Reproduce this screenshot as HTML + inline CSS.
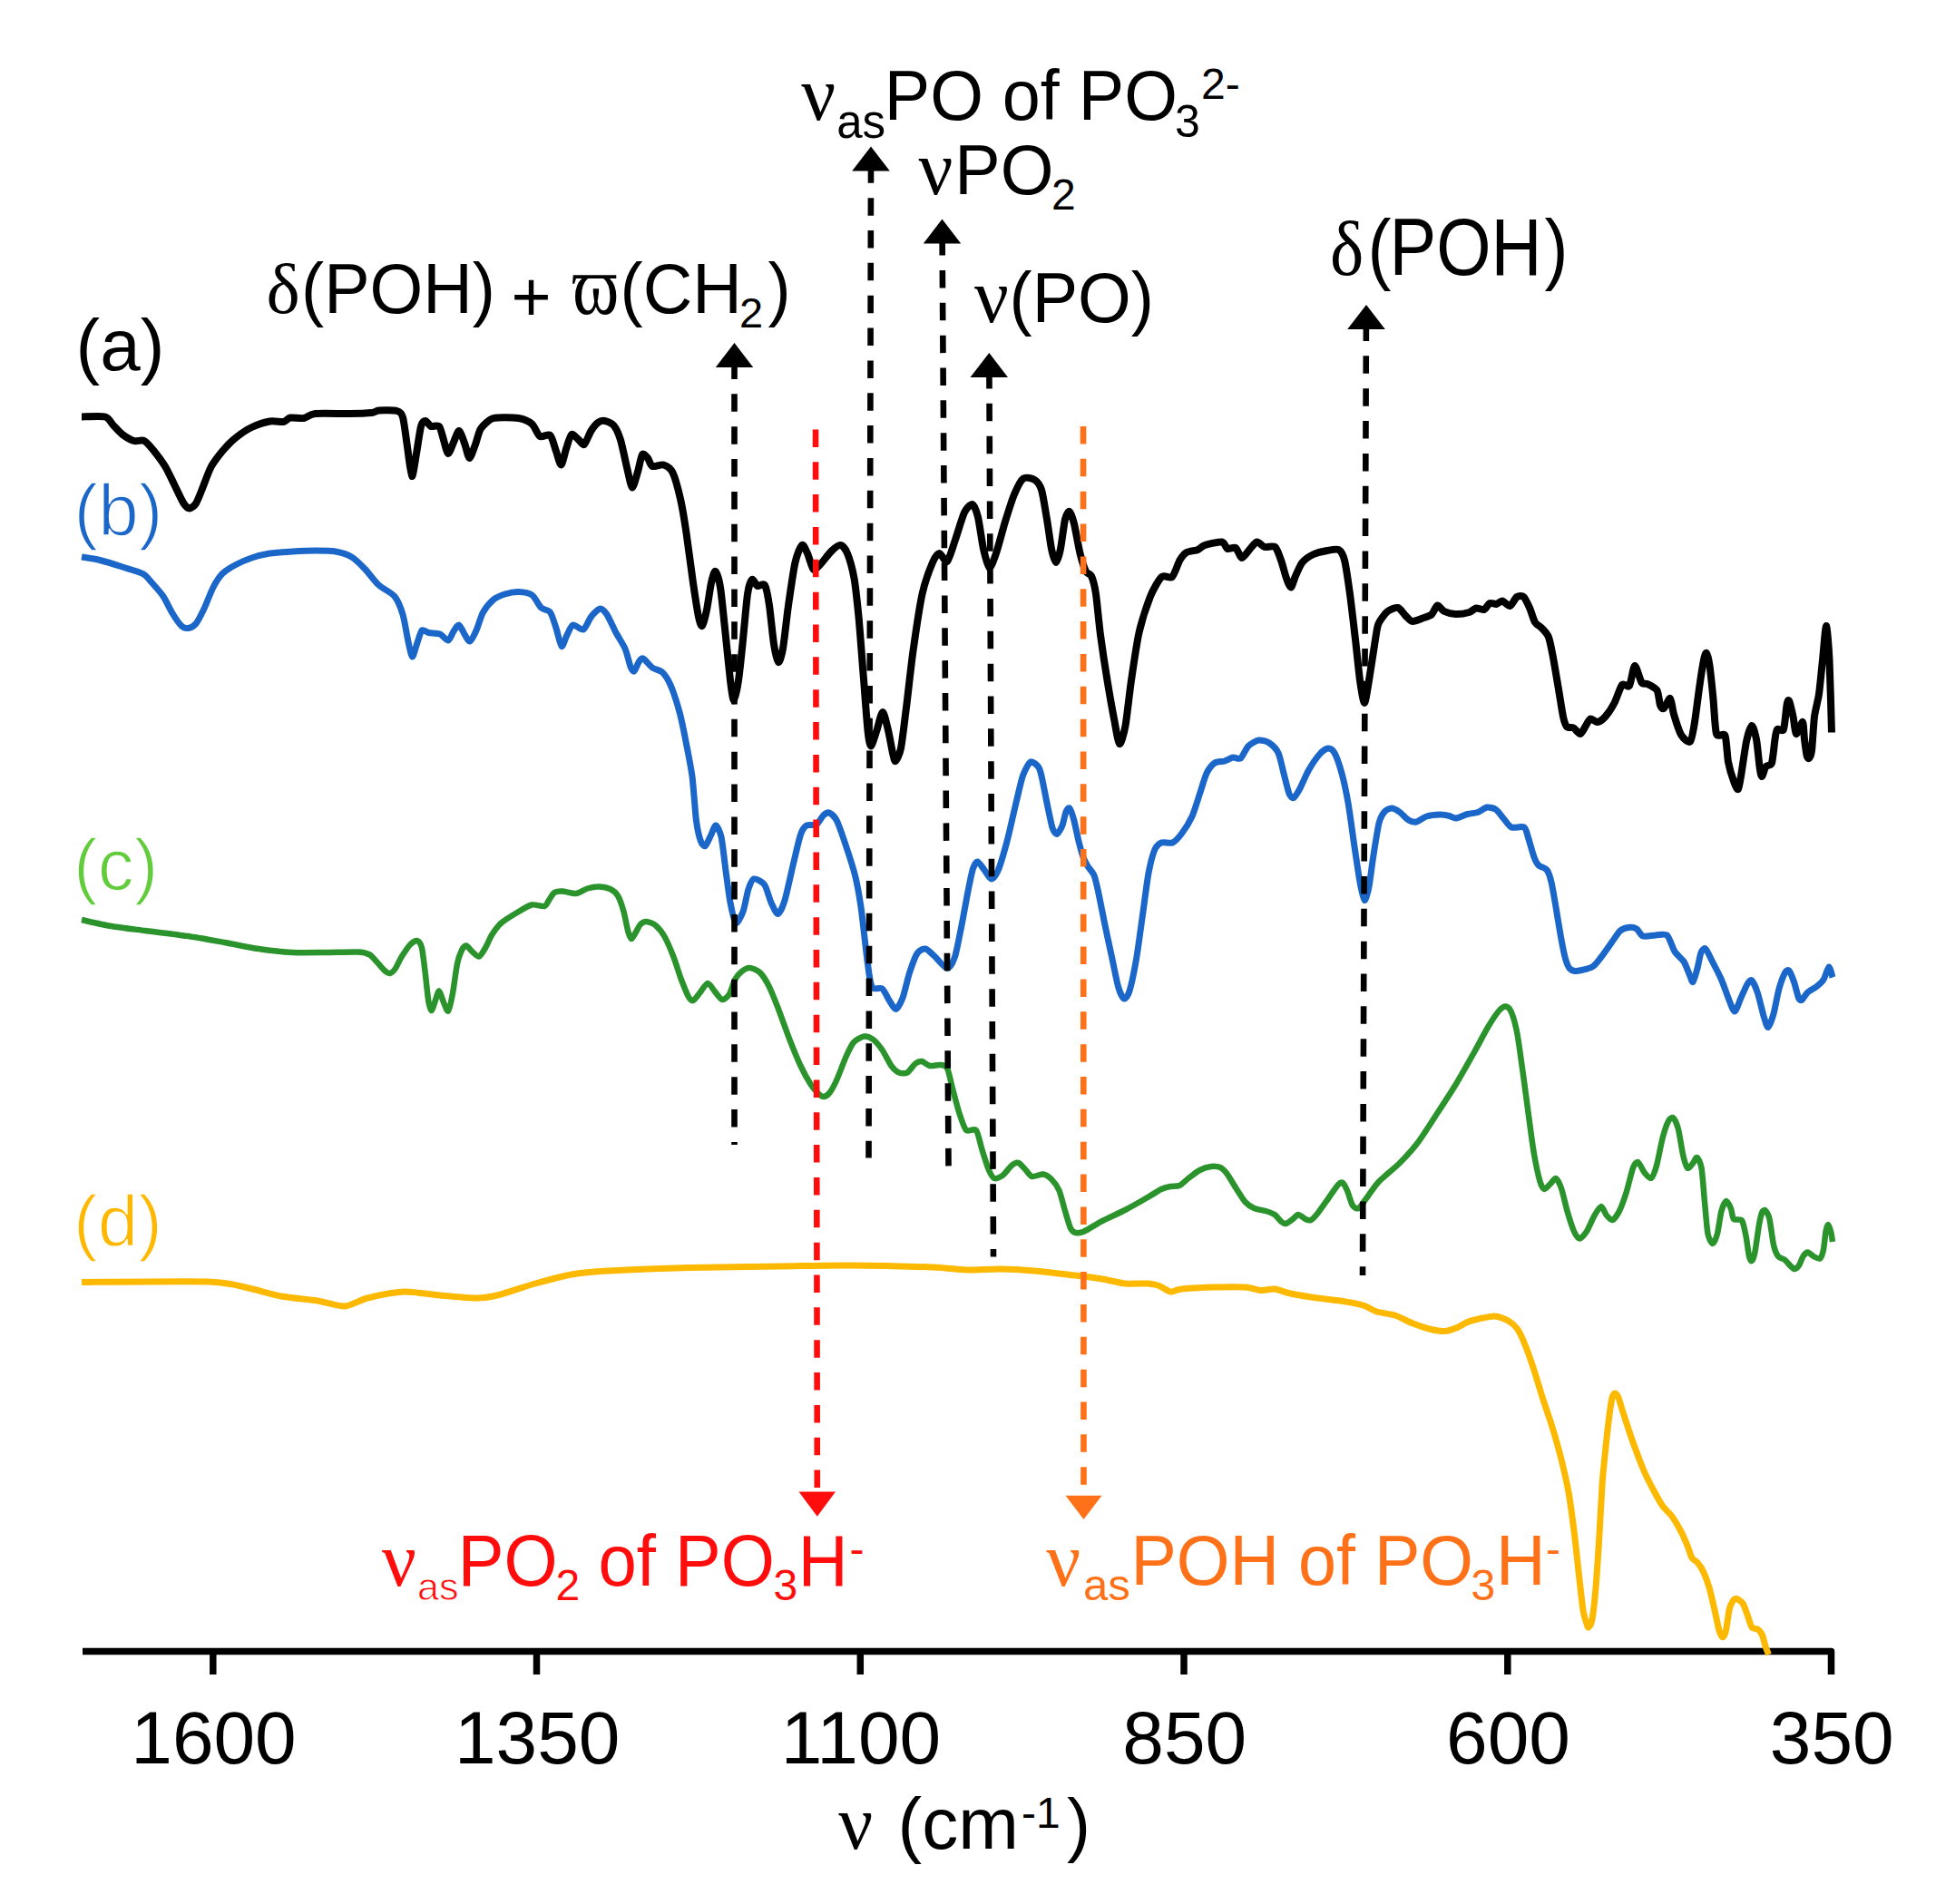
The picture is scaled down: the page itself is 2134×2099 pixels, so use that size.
<!DOCTYPE html>
<html lang="en"><head><meta charset="utf-8"><title>IR spectra</title>
<style>html,body{margin:0;padding:0;background:#fff}svg{display:block}</style></head>
<body>
<svg width="2134" height="2099" viewBox="0 0 2134 2099">
<rect width="2134" height="2099" fill="#fff"/>
<g stroke="#000" stroke-width="7.5" fill="none" stroke-linejoin="round">
<path d="M91 1820.5H2018.5V1846"/>
<line x1="234.8" y1="1820" x2="234.8" y2="1846"/>
<line x1="591.5" y1="1820" x2="591.5" y2="1846"/>
<line x1="948.3" y1="1820" x2="948.3" y2="1846"/>
<line x1="1305" y1="1820" x2="1305" y2="1846"/>
<line x1="1661.8" y1="1820" x2="1661.8" y2="1846"/>
</g>
<g fill="none" stroke-linejoin="round" stroke-linecap="butt">
<path d="M90.0 1014.0C94.1 1014.9 113.8 1019.5 122.5 1021.0C131.2 1022.5 149.1 1024.6 160.0 1026.0C170.9 1027.4 199.1 1030.9 210.0 1032.5C220.9 1034.1 238.1 1037.3 247.5 1039.0C256.9 1040.7 275.6 1044.6 285.0 1046.0C294.4 1047.4 313.1 1049.5 322.5 1050.0C331.9 1050.5 350.9 1050.1 360.0 1050.0C369.1 1049.9 389.1 1049.2 395.0 1049.5C400.9 1049.8 405.0 1051.2 407.5 1052.5C410.0 1053.8 412.9 1057.8 415.0 1060.0C417.1 1062.2 422.1 1068.4 424.0 1070.0C425.9 1071.6 428.5 1073.3 430.0 1073.0C431.5 1072.7 434.4 1069.8 436.0 1067.5C437.6 1065.2 440.4 1058.3 442.5 1055.0C444.6 1051.7 450.3 1043.2 452.5 1041.0C454.7 1038.8 458.4 1036.5 460.0 1037.0C461.6 1037.5 463.9 1040.2 465.0 1045.0C466.1 1049.8 468.1 1067.5 469.0 1075.0C469.9 1082.5 471.6 1100.1 472.5 1105.0C473.4 1109.9 475.1 1114.3 476.0 1114.0C476.9 1113.7 479.0 1105.2 480.0 1102.5C481.0 1099.8 482.9 1092.2 484.0 1092.5C485.1 1092.8 487.8 1102.2 489.0 1105.0C490.2 1107.8 492.8 1115.8 494.0 1114.5C495.2 1113.2 497.8 1101.5 499.0 1095.0C500.2 1088.5 502.8 1068.4 504.0 1062.5C505.2 1056.6 507.8 1050.0 509.0 1047.5C510.2 1045.0 512.5 1042.2 514.0 1042.5C515.5 1042.8 519.2 1048.0 521.0 1049.5C522.8 1051.0 526.2 1055.1 528.0 1054.5C529.8 1053.9 533.2 1048.1 535.0 1045.0C536.8 1041.9 540.3 1033.4 542.5 1030.0C544.7 1026.6 549.1 1020.5 552.5 1017.5C555.9 1014.5 565.8 1008.5 570.0 1006.0C574.2 1003.5 582.2 998.4 586.0 997.5C589.8 996.6 597.6 999.6 600.0 999.0C602.4 998.4 603.6 994.4 605.0 992.5C606.4 990.6 609.1 985.2 611.0 984.0C612.9 982.8 617.0 982.4 620.0 982.5C623.0 982.6 631.6 985.4 635.0 985.0C638.4 984.6 644.4 980.4 647.5 979.5C650.6 978.6 656.9 977.4 660.0 977.5C663.1 977.6 669.9 978.8 672.5 980.0C675.1 981.2 679.1 984.4 681.0 987.5C682.9 990.6 686.1 1000.0 687.5 1005.0C688.9 1010.0 691.4 1023.8 692.5 1027.5C693.6 1031.2 694.9 1035.0 696.0 1035.0C697.1 1035.0 699.8 1029.5 701.0 1027.5C702.2 1025.5 704.6 1020.4 706.0 1019.0C707.4 1017.6 710.4 1015.9 712.5 1016.0C714.6 1016.1 720.0 1017.9 722.5 1020.0C725.0 1022.1 730.0 1028.1 732.5 1032.5C735.0 1036.9 740.2 1049.1 742.5 1055.0C744.8 1060.9 748.9 1074.5 751.0 1080.0C753.1 1085.5 757.4 1096.1 759.0 1099.0C760.6 1101.9 762.5 1103.5 764.0 1103.0C765.5 1102.5 769.0 1097.4 771.0 1095.0C773.0 1092.6 777.9 1084.3 780.0 1084.0C782.1 1083.7 785.5 1090.2 787.5 1092.5C789.5 1094.8 793.9 1101.6 796.0 1102.0C798.1 1102.4 802.2 1098.8 804.0 1096.0C805.8 1093.2 808.3 1083.1 810.0 1080.0C811.7 1076.9 815.5 1072.6 817.5 1071.0C819.5 1069.4 823.5 1066.9 826.0 1067.0C828.5 1067.1 834.8 1069.5 837.5 1072.0C840.2 1074.5 845.0 1082.1 847.5 1087.0C850.0 1091.9 854.7 1103.8 857.5 1111.0C860.3 1118.2 866.9 1137.0 870.0 1145.0C873.1 1153.0 879.5 1168.6 882.5 1175.0C885.5 1181.4 891.5 1192.1 894.0 1196.0C896.5 1199.9 900.8 1204.4 902.5 1206.0C904.2 1207.6 906.4 1209.2 908.0 1209.0C909.6 1208.8 913.2 1206.4 915.0 1204.0C916.8 1201.6 920.3 1194.9 922.5 1190.0C924.7 1185.1 930.2 1170.1 932.5 1165.0C934.8 1159.9 938.5 1151.8 941.0 1149.0C943.5 1146.2 949.8 1142.9 952.5 1142.5C955.2 1142.1 960.0 1144.1 962.5 1146.0C965.0 1147.9 970.0 1153.9 972.5 1157.5C975.0 1161.1 980.2 1171.9 982.5 1175.0C984.8 1178.1 988.8 1181.6 991.0 1182.5C993.2 1183.4 997.8 1183.8 1000.0 1182.5C1002.2 1181.2 1007.0 1174.1 1009.0 1172.5C1011.0 1170.9 1014.0 1169.7 1016.0 1170.0C1018.0 1170.3 1022.5 1174.5 1025.0 1175.0C1027.5 1175.5 1033.6 1173.7 1036.0 1174.0C1038.4 1174.3 1042.2 1174.2 1044.0 1177.5C1045.8 1180.8 1048.3 1193.8 1050.0 1200.0C1051.7 1206.2 1055.6 1221.8 1057.5 1227.5C1059.4 1233.2 1062.7 1243.7 1065.0 1246.0C1067.3 1248.3 1073.8 1243.3 1076.0 1246.0C1078.2 1248.7 1080.8 1262.0 1082.5 1267.5C1084.2 1273.0 1088.3 1286.1 1090.0 1290.0C1091.7 1293.9 1094.1 1298.2 1096.0 1299.0C1097.9 1299.8 1102.6 1297.8 1105.0 1296.0C1107.4 1294.2 1112.8 1286.8 1115.0 1285.0C1117.2 1283.2 1120.6 1281.5 1122.5 1282.0C1124.4 1282.5 1128.1 1287.1 1130.0 1289.0C1131.9 1290.9 1135.0 1296.3 1137.5 1297.0C1140.0 1297.7 1147.3 1294.1 1150.0 1294.5C1152.7 1294.9 1156.8 1297.8 1159.0 1300.0C1161.2 1302.2 1165.6 1308.1 1167.5 1312.5C1169.4 1316.9 1172.4 1329.8 1174.0 1335.0C1175.6 1340.2 1178.5 1351.0 1180.0 1354.0C1181.5 1357.0 1184.1 1358.6 1186.0 1359.0C1187.9 1359.4 1191.4 1359.1 1195.0 1357.5C1198.6 1355.9 1209.4 1348.9 1215.0 1346.0C1220.6 1343.1 1233.8 1337.2 1240.0 1334.0C1246.2 1330.8 1260.0 1322.9 1265.0 1320.0C1270.0 1317.1 1276.9 1312.5 1280.0 1311.0C1283.1 1309.5 1287.5 1308.5 1290.0 1308.0C1292.5 1307.5 1297.5 1308.1 1300.0 1307.0C1302.5 1305.9 1307.2 1301.1 1310.0 1299.0C1312.8 1296.9 1319.4 1291.6 1322.5 1290.0C1325.6 1288.4 1332.2 1286.4 1335.0 1286.0C1337.8 1285.6 1342.8 1286.0 1345.0 1287.0C1347.2 1288.0 1350.3 1291.1 1352.5 1294.0C1354.7 1296.9 1360.0 1306.1 1362.5 1310.0C1365.0 1313.9 1370.0 1322.2 1372.5 1325.0C1375.0 1327.8 1379.7 1330.8 1382.5 1332.0C1385.3 1333.2 1392.2 1334.1 1395.0 1335.0C1397.8 1335.9 1402.8 1337.5 1405.0 1339.0C1407.2 1340.5 1410.9 1345.8 1412.5 1347.0C1414.1 1348.2 1415.9 1349.4 1417.5 1349.0C1419.1 1348.6 1423.3 1345.2 1425.0 1344.0C1426.7 1342.8 1429.2 1339.0 1431.0 1339.0C1432.8 1339.0 1437.2 1343.2 1439.0 1344.0C1440.8 1344.8 1443.3 1345.8 1445.0 1345.0C1446.7 1344.2 1450.0 1340.6 1452.5 1337.5C1455.0 1334.4 1462.2 1323.9 1465.0 1320.0C1467.8 1316.1 1473.1 1308.0 1475.0 1306.0C1476.9 1304.0 1478.8 1303.2 1480.0 1304.0C1481.2 1304.8 1483.6 1309.4 1485.0 1312.5C1486.4 1315.6 1489.4 1326.6 1491.0 1329.0C1492.6 1331.4 1495.8 1332.8 1497.5 1332.0C1499.2 1331.2 1502.2 1326.2 1505.0 1322.5C1507.8 1318.8 1515.3 1307.5 1520.0 1302.5C1524.7 1297.5 1537.2 1287.8 1542.5 1282.5C1547.8 1277.2 1557.5 1266.6 1562.5 1260.0C1567.5 1253.4 1577.2 1238.1 1582.5 1230.0C1587.8 1221.9 1599.7 1203.8 1605.0 1195.0C1610.3 1186.2 1620.6 1167.8 1625.0 1160.0C1629.4 1152.2 1636.6 1138.2 1640.0 1132.5C1643.4 1126.8 1650.0 1116.9 1652.5 1114.0C1655.0 1111.1 1658.3 1109.2 1660.0 1109.5C1661.7 1109.8 1664.4 1112.2 1666.0 1116.0C1667.6 1119.8 1670.9 1131.4 1672.5 1140.0C1674.1 1148.6 1677.4 1173.8 1679.0 1185.0C1680.6 1196.2 1683.5 1219.1 1685.0 1230.0C1686.5 1240.9 1689.4 1263.4 1691.0 1272.5C1692.6 1281.6 1696.1 1297.7 1697.5 1302.5C1698.9 1307.3 1701.1 1310.7 1702.5 1311.0C1703.9 1311.3 1707.4 1306.5 1709.0 1305.0C1710.6 1303.5 1713.5 1298.4 1715.0 1299.0C1716.5 1299.6 1719.4 1305.5 1721.0 1310.0C1722.6 1314.5 1725.8 1329.1 1727.5 1335.0C1729.2 1340.9 1733.3 1353.7 1735.0 1357.5C1736.7 1361.3 1739.2 1365.5 1741.0 1365.5C1742.8 1365.5 1746.9 1360.7 1749.0 1357.5C1751.1 1354.3 1755.5 1343.4 1757.5 1340.0C1759.5 1336.6 1763.3 1330.0 1765.0 1330.0C1766.7 1330.0 1769.4 1338.1 1771.0 1340.0C1772.6 1341.9 1775.8 1345.6 1777.5 1345.0C1779.2 1344.4 1783.1 1338.8 1785.0 1335.0C1786.9 1331.2 1790.6 1320.9 1792.5 1315.0C1794.4 1309.1 1798.4 1291.8 1800.0 1287.5C1801.6 1283.2 1803.9 1280.4 1805.5 1281.0C1807.1 1281.6 1810.7 1290.2 1812.5 1292.5C1814.3 1294.8 1818.3 1299.9 1820.0 1299.0C1821.7 1298.1 1824.4 1290.5 1826.0 1285.0C1827.6 1279.5 1830.9 1261.1 1832.5 1255.0C1834.1 1248.9 1837.5 1238.8 1839.0 1236.0C1840.5 1233.2 1843.1 1231.4 1844.5 1232.5C1845.9 1233.6 1848.7 1240.0 1850.0 1245.0C1851.3 1250.0 1853.8 1267.2 1855.0 1272.5C1856.2 1277.8 1858.6 1286.2 1860.0 1287.5C1861.4 1288.8 1864.7 1283.9 1866.0 1282.5C1867.3 1281.1 1869.3 1275.4 1870.5 1276.0C1871.7 1276.6 1874.4 1281.4 1875.5 1287.5C1876.6 1293.6 1878.1 1315.9 1879.0 1325.0C1879.9 1334.1 1881.4 1354.2 1882.5 1360.0C1883.6 1365.8 1886.7 1371.0 1888.0 1371.0C1889.3 1371.0 1891.8 1364.5 1893.0 1360.0C1894.2 1355.5 1896.2 1339.5 1897.5 1335.0C1898.8 1330.5 1901.7 1324.3 1903.0 1324.0C1904.3 1323.7 1907.0 1330.0 1908.0 1332.5C1909.0 1335.0 1909.5 1342.4 1911.0 1344.0C1912.5 1345.6 1918.3 1343.2 1920.0 1345.5C1921.7 1347.8 1923.5 1357.6 1924.5 1362.5C1925.5 1367.4 1927.2 1381.6 1928.0 1385.0C1928.8 1388.4 1930.2 1390.6 1931.0 1390.0C1931.8 1389.4 1933.5 1385.0 1934.5 1380.0C1935.5 1375.0 1938.0 1355.5 1939.0 1350.0C1940.0 1344.5 1941.6 1337.9 1942.5 1336.0C1943.4 1334.1 1945.0 1333.5 1946.0 1334.5C1947.0 1335.5 1949.4 1339.2 1950.5 1344.0C1951.6 1348.8 1953.8 1367.4 1955.0 1372.5C1956.2 1377.6 1958.4 1382.9 1960.0 1385.0C1961.6 1387.1 1965.8 1387.6 1967.5 1389.0C1969.2 1390.4 1972.7 1394.8 1974.0 1396.0C1975.3 1397.2 1976.9 1399.1 1978.0 1399.0C1979.1 1398.9 1981.8 1396.8 1983.0 1395.0C1984.2 1393.2 1986.3 1386.8 1987.5 1385.0C1988.7 1383.2 1991.1 1380.5 1992.5 1380.5C1993.9 1380.5 1997.3 1384.1 1999.0 1385.0C2000.7 1385.9 2004.6 1388.4 2006.0 1387.5C2007.4 1386.6 2009.2 1381.2 2010.0 1377.5C2010.8 1373.8 2011.9 1360.9 2012.5 1357.5C2013.1 1354.1 2014.3 1350.0 2015.0 1350.0C2015.7 1350.0 2017.4 1355.1 2018.0 1357.5C2018.6 1359.9 2019.8 1367.6 2020.0 1369.0" stroke="#2a932c" stroke-width="6.5"/>
<path d="M90.0 614.0C92.5 614.4 104.4 616.1 110.0 617.5C115.6 618.9 129.1 623.1 135.0 625.0C140.9 626.9 153.4 630.3 157.5 632.5C161.6 634.7 164.7 639.4 167.5 642.5C170.3 645.6 177.2 653.3 180.0 657.5C182.8 661.7 187.5 671.9 190.0 676.0C192.5 680.1 197.8 687.9 200.0 690.0C202.2 692.1 205.5 692.8 207.5 692.5C209.5 692.2 213.8 690.2 216.0 687.5C218.2 684.8 222.6 676.0 225.0 671.0C227.4 666.0 232.5 652.3 235.0 647.5C237.5 642.7 241.9 635.6 245.0 632.5C248.1 629.4 255.9 624.7 260.0 622.5C264.1 620.3 272.8 616.6 277.5 615.0C282.2 613.4 291.9 610.9 297.5 610.0C303.1 609.1 316.2 608.4 322.5 608.0C328.8 607.6 341.6 607.0 347.5 607.0C353.4 607.0 365.0 607.1 370.0 608.0C375.0 608.9 383.4 611.6 387.5 614.0C391.6 616.4 398.8 623.6 402.5 627.5C406.2 631.4 413.4 641.2 417.5 645.0C421.6 648.8 431.7 653.4 435.0 657.5C438.3 661.6 442.1 671.2 444.0 677.5C445.9 683.8 448.7 701.7 450.0 707.5C451.3 713.3 453.3 723.7 454.5 724.0C455.7 724.3 458.2 713.6 459.5 710.0C460.8 706.4 463.4 696.6 465.0 695.0C466.6 693.4 470.0 697.0 472.5 697.5C475.0 698.0 482.3 697.9 485.0 699.0C487.7 700.1 492.1 706.4 494.0 706.0C495.9 705.6 498.5 698.1 500.0 696.0C501.5 693.9 504.4 688.5 506.0 689.0C507.6 689.5 511.0 697.8 512.5 700.0C514.0 702.2 516.4 707.6 518.0 707.0C519.6 706.4 523.2 699.0 525.0 695.0C526.8 691.0 530.1 679.2 532.5 675.0C534.9 670.8 541.0 663.5 544.0 661.0C547.0 658.5 553.1 656.1 556.5 655.0C559.9 653.9 567.8 652.4 571.5 652.5C575.2 652.6 583.4 653.8 586.5 656.0C589.6 658.2 594.0 667.6 596.5 670.0C599.0 672.4 604.4 672.2 606.5 675.0C608.6 677.8 611.4 687.8 613.0 692.5C614.6 697.2 617.5 711.6 619.0 712.5C620.5 713.4 623.4 702.9 625.0 700.0C626.6 697.1 629.2 689.8 631.5 689.0C633.8 688.2 640.5 695.1 643.0 694.0C645.5 692.9 649.2 682.9 651.5 680.0C653.8 677.1 659.3 671.3 661.5 671.0C663.7 670.7 666.8 674.2 669.0 677.5C671.2 680.8 676.5 692.8 679.0 697.5C681.5 702.2 687.0 710.3 689.0 715.0C691.0 719.7 693.8 731.9 695.0 735.0C696.2 738.1 697.9 740.6 699.0 740.0C700.1 739.4 702.8 731.8 704.0 730.0C705.2 728.2 707.1 725.2 709.0 726.0C710.9 726.8 716.4 734.1 719.0 736.0C721.6 737.9 727.5 738.6 730.0 741.0C732.5 743.4 736.6 749.5 739.0 755.0C741.4 760.5 746.8 776.9 749.0 785.0C751.2 793.1 754.8 811.1 756.5 820.0C758.2 828.9 761.6 845.4 763.0 856.0C764.4 866.6 766.3 896.1 767.5 905.0C768.7 913.9 771.2 924.1 772.5 927.5C773.8 930.9 776.1 933.4 777.5 932.5C778.9 931.6 782.6 922.8 784.0 920.0C785.4 917.2 787.6 909.7 789.0 910.0C790.4 910.3 793.6 916.2 795.0 922.5C796.4 928.8 798.8 950.9 800.0 960.0C801.2 969.1 803.6 987.8 805.0 995.0C806.4 1002.2 809.2 1016.2 811.0 1017.5C812.8 1018.8 817.2 1009.7 819.0 1005.0C820.8 1000.3 823.5 984.5 825.0 980.0C826.5 975.5 828.8 969.6 831.0 969.0C833.2 968.4 840.1 971.8 842.5 975.0C844.9 978.2 848.1 990.9 850.0 995.0C851.9 999.1 855.6 1007.8 857.5 1007.5C859.4 1007.2 862.8 999.7 865.0 992.5C867.2 985.3 872.8 959.1 875.0 950.0C877.2 940.9 880.8 925.0 882.5 920.0C884.2 915.0 886.8 911.4 889.0 910.0C891.2 908.6 897.7 910.4 900.0 909.0C902.3 907.6 905.8 900.6 907.5 899.0C909.2 897.4 912.1 895.2 914.0 896.0C915.9 896.8 920.2 900.4 922.5 905.0C924.8 909.6 930.0 925.0 932.5 932.5C935.0 940.0 940.4 956.6 942.5 965.0C944.6 973.4 947.6 990.3 949.0 1000.0C950.4 1009.7 952.8 1032.5 954.0 1042.5C955.2 1052.5 957.9 1074.1 959.0 1080.0C960.1 1085.9 960.8 1088.2 962.5 1089.5C964.2 1090.8 970.3 1088.4 972.5 1090.0C974.7 1091.6 978.1 1099.7 980.0 1102.5C981.9 1105.3 985.6 1112.8 987.5 1112.5C989.4 1112.2 993.1 1105.0 995.0 1100.0C996.9 1095.0 1000.5 1078.6 1002.5 1072.5C1004.5 1066.4 1008.8 1054.3 1011.0 1051.0C1013.2 1047.7 1017.6 1045.6 1020.0 1046.0C1022.4 1046.4 1027.0 1051.3 1030.0 1054.0C1033.0 1056.7 1041.2 1067.4 1044.0 1067.5C1046.8 1067.6 1050.5 1060.9 1052.5 1055.0C1054.5 1049.1 1058.1 1029.4 1060.0 1020.0C1061.9 1010.6 1065.9 987.8 1067.5 980.0C1069.1 972.2 1071.2 961.2 1072.5 957.5C1073.8 953.8 1075.9 949.8 1077.5 950.0C1079.1 950.2 1083.1 956.6 1085.0 959.0C1086.9 961.4 1090.6 968.9 1092.5 969.0C1094.4 969.1 1097.8 965.2 1100.0 960.0C1102.2 954.8 1107.5 936.9 1110.0 927.5C1112.5 918.1 1117.8 894.1 1120.0 885.0C1122.2 875.9 1125.5 860.6 1127.5 855.0C1129.5 849.4 1133.8 841.1 1136.0 840.0C1138.2 838.9 1143.4 843.5 1145.0 846.0C1146.6 848.5 1147.8 854.5 1149.0 860.0C1150.2 865.5 1153.6 883.4 1155.0 890.0C1156.4 896.6 1158.8 908.8 1160.0 912.5C1161.2 916.2 1163.6 919.8 1165.0 919.5C1166.4 919.2 1169.8 913.1 1171.0 910.0C1172.2 906.9 1174.0 897.4 1175.0 895.0C1176.0 892.6 1177.9 889.8 1179.0 891.0C1180.1 892.2 1182.8 900.4 1184.0 905.0C1185.2 909.6 1187.8 922.5 1189.0 927.5C1190.2 932.5 1192.8 941.6 1194.0 945.0C1195.2 948.4 1197.5 952.5 1199.0 955.0C1200.5 957.5 1204.5 961.2 1206.0 965.0C1207.5 968.8 1209.6 978.4 1211.0 985.0C1212.4 991.6 1215.8 1009.1 1217.5 1017.5C1219.2 1025.9 1223.1 1043.8 1225.0 1052.5C1226.9 1061.2 1230.8 1081.4 1232.5 1087.5C1234.2 1093.6 1237.4 1100.4 1239.0 1101.0C1240.6 1101.6 1243.3 1097.9 1245.0 1092.5C1246.7 1087.1 1250.6 1068.4 1252.5 1057.5C1254.4 1046.6 1258.3 1016.9 1260.0 1005.0C1261.7 993.1 1264.4 970.9 1266.0 962.5C1267.6 954.1 1270.8 941.7 1272.5 937.5C1274.2 933.3 1277.5 930.1 1280.0 929.0C1282.5 927.9 1289.7 930.2 1292.5 929.0C1295.3 927.8 1299.8 922.6 1302.5 919.0C1305.2 915.4 1311.5 905.5 1314.0 900.0C1316.5 894.5 1320.5 880.9 1322.5 875.0C1324.5 869.1 1327.9 856.8 1330.0 852.5C1332.1 848.2 1336.5 842.7 1339.0 841.0C1341.5 839.3 1347.5 839.8 1350.0 839.0C1352.5 838.2 1356.8 835.4 1359.0 835.0C1361.2 834.6 1365.4 837.6 1367.5 836.0C1369.6 834.4 1373.5 825.0 1376.0 822.5C1378.5 820.0 1384.6 816.4 1387.5 816.0C1390.4 815.6 1396.3 817.2 1399.0 819.0C1401.7 820.8 1407.0 825.8 1409.0 830.0C1411.0 834.2 1413.5 846.9 1415.0 852.5C1416.5 858.1 1419.6 871.6 1421.0 875.0C1422.4 878.4 1424.6 880.1 1426.0 879.5C1427.4 878.9 1430.4 873.8 1432.5 870.0C1434.6 866.2 1439.7 853.9 1442.5 849.0C1445.3 844.1 1452.3 834.0 1455.0 831.0C1457.7 828.0 1462.0 825.1 1464.0 825.0C1466.0 824.9 1469.1 826.6 1471.0 830.0C1472.9 833.4 1477.1 845.6 1479.0 852.5C1480.9 859.4 1484.3 875.3 1486.0 885.0C1487.7 894.7 1490.9 919.1 1492.5 930.0C1494.1 940.9 1497.6 964.7 1499.0 972.5C1500.4 980.3 1502.8 991.9 1504.0 992.5C1505.2 993.1 1507.8 983.8 1509.0 977.5C1510.2 971.2 1512.6 951.2 1514.0 942.5C1515.4 933.8 1518.5 913.4 1520.0 907.5C1521.5 901.6 1524.2 897.1 1526.0 895.0C1527.8 892.9 1531.9 891.0 1534.0 891.0C1536.1 891.0 1540.2 893.4 1542.5 895.0C1544.8 896.6 1550.2 902.6 1552.5 904.0C1554.8 905.4 1558.5 906.5 1561.0 906.0C1563.5 905.5 1569.2 901.0 1572.5 900.0C1575.8 899.0 1584.4 898.1 1587.5 898.0C1590.6 897.9 1595.3 899.0 1597.5 899.5C1599.7 900.0 1602.5 902.2 1605.0 902.0C1607.5 901.8 1614.5 898.3 1617.5 897.5C1620.5 896.7 1626.3 896.4 1629.0 895.5C1631.7 894.6 1636.5 890.4 1639.0 890.0C1641.5 889.6 1646.7 890.9 1649.0 892.5C1651.3 894.1 1655.4 900.1 1657.5 902.5C1659.6 904.9 1663.2 910.8 1666.0 912.0C1668.8 913.2 1677.6 910.4 1680.0 912.0C1682.4 913.6 1683.6 920.9 1685.0 925.0C1686.4 929.1 1689.6 941.4 1691.0 945.0C1692.4 948.6 1694.2 952.2 1696.0 954.0C1697.8 955.8 1703.2 956.7 1705.0 959.0C1706.8 961.3 1708.8 967.4 1710.0 972.5C1711.2 977.6 1713.8 992.8 1715.0 1000.0C1716.2 1007.2 1718.8 1023.1 1720.0 1030.0C1721.2 1036.9 1723.8 1050.3 1725.0 1055.0C1726.2 1059.7 1728.4 1065.6 1730.0 1067.5C1731.6 1069.4 1734.4 1070.7 1737.5 1070.5C1740.6 1070.3 1751.6 1067.9 1755.0 1066.0C1758.4 1064.1 1762.2 1058.6 1765.0 1055.0C1767.8 1051.4 1774.9 1041.1 1777.5 1037.5C1780.1 1033.9 1783.8 1027.9 1786.0 1026.0C1788.2 1024.1 1792.8 1022.8 1795.0 1022.5C1797.2 1022.2 1802.0 1022.8 1804.0 1024.0C1806.0 1025.2 1808.4 1031.1 1811.0 1032.0C1813.6 1032.9 1821.7 1031.1 1825.0 1031.0C1828.3 1030.9 1834.9 1028.8 1837.5 1031.0C1840.1 1033.2 1843.7 1045.4 1846.0 1049.0C1848.3 1052.6 1853.9 1056.8 1856.0 1060.0C1858.1 1063.2 1861.2 1072.2 1862.5 1075.0C1863.8 1077.8 1864.9 1083.4 1866.0 1082.5C1867.1 1081.6 1869.9 1071.6 1871.0 1067.5C1872.1 1063.4 1873.9 1052.7 1875.0 1050.0C1876.1 1047.3 1878.4 1044.8 1880.0 1046.0C1881.6 1047.2 1885.3 1055.8 1887.5 1060.0C1889.7 1064.2 1895.3 1075.0 1897.5 1080.0C1899.7 1085.0 1903.2 1095.6 1905.0 1100.0C1906.8 1104.4 1910.2 1115.0 1912.0 1115.0C1913.8 1115.0 1917.2 1103.8 1919.0 1100.0C1920.8 1096.2 1924.5 1087.4 1926.0 1085.0C1927.5 1082.6 1929.6 1079.8 1931.0 1081.0C1932.4 1082.2 1935.9 1090.1 1937.5 1095.0C1939.1 1099.9 1942.6 1115.3 1944.0 1120.0C1945.4 1124.7 1947.6 1132.8 1949.0 1132.5C1950.4 1132.2 1953.5 1122.8 1955.0 1117.5C1956.5 1112.2 1959.4 1095.6 1961.0 1090.0C1962.6 1084.4 1966.1 1075.0 1967.5 1072.5C1968.9 1070.0 1970.8 1068.8 1972.0 1070.0C1973.2 1071.2 1976.2 1078.8 1977.5 1082.5C1978.8 1086.2 1981.4 1097.5 1982.5 1100.0C1983.6 1102.5 1984.8 1103.2 1986.0 1102.5C1987.2 1101.8 1990.4 1095.9 1992.5 1094.0C1994.6 1092.1 2000.3 1089.2 2002.5 1087.5C2004.7 1085.8 2008.3 1082.7 2010.0 1080.0C2011.7 1077.3 2014.8 1066.3 2016.0 1066.0C2017.2 1065.7 2019.5 1076.1 2020.0 1077.5" stroke="#1a66c9" stroke-width="7"/>
<path d="M90.0 459.5C93.2 459.5 111.6 458.3 116.0 459.5C120.4 460.7 122.6 466.6 125.0 469.0C127.4 471.4 132.2 476.9 135.0 479.0C137.8 481.1 144.5 485.1 147.5 486.0C150.5 486.9 156.2 484.6 159.0 486.0C161.8 487.4 167.1 493.9 170.0 497.5C172.9 501.1 179.7 510.3 182.5 515.0C185.3 519.7 190.0 530.0 192.5 535.0C195.0 540.0 200.4 551.8 202.5 555.0C204.6 558.2 207.3 560.5 209.0 560.5C210.7 560.5 214.3 557.6 216.0 555.0C217.7 552.4 220.4 545.0 222.5 540.0C224.6 535.0 229.7 520.3 232.5 515.0C235.3 509.7 241.6 501.6 245.0 497.5C248.4 493.4 255.9 485.8 260.0 482.5C264.1 479.2 272.8 473.2 277.5 471.0C282.2 468.8 293.1 465.2 297.5 464.5C301.9 463.8 309.7 465.5 312.5 465.0C315.3 464.5 317.2 461.0 320.0 460.5C322.8 460.0 331.6 461.6 335.0 461.0C338.4 460.4 341.2 456.6 347.5 456.0C353.8 455.4 377.2 456.1 385.0 456.0C392.8 455.9 405.9 455.4 410.0 455.0C414.1 454.6 414.1 452.8 417.5 452.5C420.9 452.2 434.2 452.1 437.5 453.0C440.8 453.9 442.6 455.1 444.0 460.0C445.4 464.9 447.8 484.4 449.0 492.5C450.2 500.6 452.8 524.1 454.0 525.0C455.2 525.9 457.8 506.9 459.0 500.0C460.2 493.1 462.8 474.5 464.0 470.0C465.2 465.5 467.6 464.0 469.0 464.0C470.4 464.0 473.1 469.2 475.0 470.0C476.9 470.8 482.2 468.1 484.0 470.0C485.8 471.9 487.8 481.2 489.0 485.0C490.2 488.8 492.6 499.7 494.0 500.0C495.4 500.3 498.5 490.6 500.0 487.5C501.5 484.4 504.4 474.7 506.0 475.0C507.6 475.3 511.1 486.2 512.5 490.0C513.9 493.8 516.1 505.0 517.5 505.0C518.9 505.0 522.4 494.1 524.0 490.0C525.6 485.9 527.5 476.1 530.0 472.5C532.5 468.9 538.8 462.4 544.0 461.0C549.2 459.6 566.2 460.2 571.5 461.0C576.8 461.8 583.6 465.0 586.5 467.5C589.4 470.0 592.5 479.4 595.0 481.0C597.5 482.6 604.2 477.9 606.5 480.0C608.8 482.1 611.5 493.4 613.0 497.5C614.5 501.6 617.1 512.8 618.5 512.5C619.9 512.2 622.6 499.2 624.0 495.0C625.4 490.8 628.2 480.2 630.0 479.0C631.8 477.8 636.2 483.6 638.0 485.0C639.8 486.4 642.3 491.2 644.0 490.0C645.7 488.8 649.6 478.0 651.5 475.0C653.4 472.0 657.1 467.4 659.0 466.0C660.9 464.6 664.3 463.6 666.5 464.0C668.7 464.4 674.3 466.4 676.5 469.0C678.7 471.6 682.1 478.9 684.0 485.0C685.9 491.1 689.9 510.9 691.5 517.5C693.1 524.1 695.6 537.2 697.0 537.5C698.4 537.8 701.6 524.6 703.0 520.0C704.4 515.4 706.6 502.9 708.0 501.0C709.4 499.1 712.6 503.4 714.0 505.0C715.4 506.6 716.8 513.1 719.0 514.0C721.2 514.9 728.7 511.6 731.5 512.5C734.3 513.4 739.2 516.3 741.5 521.0C743.8 525.7 748.1 541.7 750.0 550.0C751.9 558.3 754.8 575.9 756.5 587.5C758.2 599.1 762.3 630.9 764.0 642.5C765.7 654.1 768.8 674.1 770.0 680.0C771.2 685.9 772.9 690.9 774.0 690.0C775.1 689.1 777.8 678.4 779.0 672.5C780.2 666.6 782.8 647.8 784.0 642.5C785.2 637.2 787.2 629.4 788.5 630.0C789.8 630.6 792.7 639.7 794.0 647.5C795.3 655.3 797.6 679.7 799.0 692.5C800.4 705.3 803.8 740.0 805.0 750.0C806.2 760.0 807.9 772.5 809.0 772.5C810.1 772.5 812.8 758.4 814.0 750.0C815.2 741.6 817.8 716.9 819.0 705.0C820.2 693.1 822.8 663.2 824.0 655.0C825.2 646.8 827.6 640.1 829.0 639.0C830.4 637.9 833.2 645.2 835.0 646.0C836.8 646.8 841.4 642.3 843.0 645.0C844.6 647.7 846.8 659.4 848.0 667.5C849.2 675.6 851.8 702.2 853.0 710.0C854.2 717.8 856.8 729.4 858.0 730.0C859.2 730.6 861.6 722.8 863.0 715.0C864.4 707.2 867.3 679.4 869.0 667.5C870.7 655.6 874.6 628.3 876.5 620.0C878.4 611.7 882.3 602.2 884.0 601.0C885.7 599.8 888.4 606.7 890.0 610.0C891.6 613.3 894.8 625.9 896.5 627.5C898.2 629.1 901.5 625.0 904.0 622.5C906.5 620.0 913.7 610.2 916.5 607.5C919.3 604.8 924.3 600.7 926.5 601.0C928.7 601.3 932.1 605.4 934.0 610.0C935.9 614.6 939.9 628.8 941.5 637.5C943.1 646.2 945.2 666.9 946.5 680.0C947.8 693.1 950.2 726.9 951.5 742.5C952.8 758.1 955.4 795.0 956.5 805.0C957.6 815.0 958.8 822.5 960.0 822.5C961.2 822.5 964.9 809.7 966.5 805.0C968.1 800.3 971.4 785.0 973.0 785.0C974.6 785.0 977.6 799.4 979.0 805.0C980.4 810.6 983.0 825.8 984.0 830.0C985.0 834.2 985.9 839.6 987.0 839.0C988.1 838.4 991.5 832.4 993.0 825.0C994.5 817.6 997.3 793.4 999.0 780.0C1000.7 766.6 1004.3 733.1 1006.5 717.5C1008.7 701.9 1013.8 667.2 1016.5 655.0C1019.2 642.8 1025.6 625.6 1028.0 620.0C1030.4 614.4 1033.5 610.1 1035.5 610.0C1037.5 609.9 1041.8 620.9 1044.0 619.0C1046.2 617.1 1050.6 601.8 1053.0 595.0C1055.4 588.2 1060.6 569.9 1063.0 565.0C1065.4 560.1 1070.1 555.4 1072.0 556.0C1073.9 556.6 1076.5 563.9 1078.0 570.0C1079.5 576.1 1082.4 598.0 1084.0 605.0C1085.6 612.0 1088.8 625.4 1090.5 626.0C1092.2 626.6 1095.8 616.4 1098.0 610.0C1100.2 603.6 1105.5 583.1 1108.0 575.0C1110.5 566.9 1115.5 550.9 1118.0 545.0C1120.5 539.1 1125.2 529.5 1128.0 527.5C1130.8 525.5 1138.0 527.4 1140.5 529.0C1143.0 530.6 1146.3 534.6 1148.0 540.0C1149.7 545.4 1152.6 564.4 1154.0 572.5C1155.4 580.6 1157.8 599.1 1159.0 605.0C1160.2 610.9 1162.8 620.0 1164.0 620.0C1165.2 620.0 1167.8 610.9 1169.0 605.0C1170.2 599.1 1172.8 577.6 1174.0 572.5C1175.2 567.4 1177.8 563.4 1179.0 564.0C1180.2 564.6 1182.6 571.8 1184.0 577.5C1185.4 583.2 1188.9 603.4 1190.5 610.0C1192.1 616.6 1195.4 626.9 1197.0 630.0C1198.6 633.1 1201.6 631.9 1203.0 635.0C1204.4 638.1 1206.8 646.9 1208.0 655.0C1209.2 663.1 1211.4 688.1 1213.0 700.0C1214.6 711.9 1218.6 738.4 1220.5 750.0C1222.4 761.6 1226.3 783.8 1228.0 792.5C1229.7 801.2 1232.4 819.1 1234.0 820.0C1235.6 820.9 1238.9 808.8 1240.5 800.0C1242.1 791.2 1245.1 762.8 1247.0 750.0C1248.9 737.2 1252.9 709.1 1255.5 697.5C1258.1 685.9 1264.9 665.2 1268.0 657.5C1271.1 649.8 1277.5 638.7 1280.5 636.0C1283.5 633.3 1289.5 638.3 1292.0 636.0C1294.5 633.7 1298.5 620.9 1300.5 617.5C1302.5 614.1 1305.5 610.4 1308.0 609.0C1310.5 607.6 1318.0 607.0 1320.5 606.0C1323.0 605.0 1324.7 602.1 1328.0 601.0C1331.3 599.9 1343.9 597.0 1347.0 597.5C1350.1 598.0 1351.1 604.2 1353.0 605.0C1354.9 605.8 1360.0 602.8 1362.0 604.0C1364.0 605.2 1367.0 614.9 1369.0 615.0C1371.0 615.1 1375.9 607.2 1378.0 605.0C1380.1 602.8 1383.5 597.8 1385.5 597.5C1387.5 597.2 1391.5 602.3 1394.0 603.0C1396.5 603.7 1403.2 601.2 1405.5 603.0C1407.8 604.8 1410.4 613.2 1412.0 617.5C1413.6 621.8 1416.6 633.8 1418.0 637.5C1419.4 641.2 1421.8 647.8 1423.0 647.5C1424.2 647.2 1426.4 638.4 1428.0 635.0C1429.6 631.6 1433.0 623.0 1435.5 620.0C1438.0 617.0 1444.6 612.6 1448.0 611.0C1451.4 609.4 1459.6 607.6 1463.0 607.0C1466.4 606.4 1473.1 604.7 1475.5 606.0C1477.9 607.3 1480.4 611.4 1482.0 617.5C1483.6 623.6 1486.5 644.1 1488.0 655.0C1489.5 665.9 1492.6 693.1 1494.0 705.0C1495.4 716.9 1497.8 741.2 1499.0 750.0C1500.2 758.8 1502.8 775.0 1504.0 775.0C1505.2 775.0 1507.5 758.8 1509.0 750.0C1510.5 741.2 1514.7 712.8 1516.0 705.0C1517.3 697.2 1517.8 691.4 1519.5 687.5C1521.2 683.6 1526.8 676.2 1529.5 674.0C1532.2 671.8 1538.5 669.4 1541.0 670.0C1543.5 670.6 1547.5 677.1 1549.5 679.0C1551.5 680.9 1554.5 684.8 1557.0 685.0C1559.5 685.2 1566.9 681.9 1569.5 681.0C1572.1 680.1 1576.1 679.2 1578.0 677.5C1579.9 675.8 1582.8 667.9 1584.5 667.5C1586.2 667.1 1589.5 672.8 1592.0 674.0C1594.5 675.2 1601.1 676.9 1604.5 677.0C1607.9 677.1 1616.7 675.8 1619.5 675.0C1622.3 674.2 1624.9 670.9 1627.0 670.5C1629.1 670.1 1634.1 672.7 1636.0 672.0C1637.9 671.3 1640.3 665.8 1642.0 665.0C1643.7 664.2 1647.8 666.3 1649.5 666.0C1651.2 665.7 1654.1 662.2 1656.0 662.5C1657.9 662.8 1662.5 668.6 1664.5 668.0C1666.5 667.4 1670.1 659.2 1672.0 658.0C1673.9 656.8 1677.8 656.5 1679.5 658.0C1681.2 659.5 1684.4 666.5 1686.0 670.0C1687.6 673.5 1690.3 683.2 1692.0 686.0C1693.7 688.8 1697.6 690.4 1699.5 692.5C1701.4 694.6 1705.4 698.4 1707.0 702.5C1708.6 706.6 1710.6 717.8 1712.0 725.0C1713.4 732.2 1716.6 751.9 1718.0 760.0C1719.4 768.1 1721.9 784.9 1723.0 790.0C1724.1 795.1 1725.6 799.4 1727.0 801.0C1728.4 802.6 1732.6 801.5 1734.5 802.5C1736.4 803.5 1740.3 809.3 1742.0 809.0C1743.7 808.7 1746.6 802.1 1748.0 800.0C1749.4 797.9 1751.4 793.0 1753.0 792.5C1754.6 792.0 1758.9 796.3 1761.0 796.0C1763.1 795.7 1767.2 792.6 1769.5 790.0C1771.8 787.4 1777.2 779.4 1779.5 775.0C1781.8 770.6 1785.9 757.4 1788.0 755.0C1790.1 752.6 1794.2 758.6 1796.0 756.0C1797.8 753.4 1800.3 734.4 1802.0 734.0C1803.7 733.6 1807.8 750.0 1809.5 752.5C1811.2 755.0 1813.9 752.9 1816.0 754.0C1818.1 755.1 1824.8 758.1 1826.5 761.0C1828.2 763.9 1829.1 775.0 1830.0 777.5C1830.9 780.0 1832.6 781.9 1834.0 781.0C1835.4 780.1 1839.6 769.2 1841.0 770.0C1842.4 770.8 1843.5 782.5 1845.0 787.5C1846.5 792.5 1850.8 806.2 1853.0 810.0C1855.2 813.8 1861.1 819.2 1863.0 817.5C1864.9 815.8 1866.8 803.3 1868.0 796.0C1869.2 788.7 1871.8 767.6 1873.0 759.0C1874.2 750.4 1877.0 732.4 1878.0 727.5C1879.0 722.6 1880.2 719.2 1881.0 720.0C1881.8 720.8 1883.6 727.6 1884.5 734.0C1885.4 740.4 1887.6 761.6 1888.5 771.0C1889.4 780.4 1890.4 804.0 1892.0 809.0C1893.6 814.0 1899.9 807.1 1901.5 811.0C1903.1 814.9 1903.8 833.6 1905.0 840.0C1906.2 846.4 1910.1 858.8 1911.5 862.5C1912.9 866.2 1915.0 871.2 1916.0 870.0C1917.0 868.8 1918.4 859.1 1919.5 852.5C1920.6 845.9 1923.6 824.1 1925.0 817.5C1926.4 810.9 1929.6 800.3 1931.0 800.0C1932.4 799.7 1934.9 809.4 1936.0 815.0C1937.1 820.6 1938.8 839.9 1939.5 845.0C1940.2 850.1 1941.1 856.0 1942.0 856.0C1942.9 856.0 1945.1 846.9 1946.5 845.0C1947.9 843.1 1951.8 844.8 1953.0 841.0C1954.2 837.2 1955.8 819.6 1956.5 815.0C1957.2 810.4 1957.8 805.4 1959.0 804.0C1960.2 802.6 1964.7 807.3 1966.0 804.0C1967.3 800.7 1968.8 781.4 1969.5 777.5C1970.2 773.6 1971.1 770.9 1972.0 772.5C1972.9 774.1 1975.5 785.4 1976.5 790.0C1977.5 794.6 1978.7 808.2 1980.0 809.0C1981.3 809.8 1985.9 795.2 1987.0 796.0C1988.1 796.8 1988.4 810.4 1989.0 815.0C1989.6 819.6 1990.9 829.9 1991.5 832.5C1992.1 835.1 1993.3 836.6 1994.0 836.0C1994.7 835.4 1996.2 833.2 1997.0 827.5C1997.8 821.8 1999.0 797.8 2000.0 790.0C2001.0 782.2 2003.9 772.8 2005.0 765.0C2006.1 757.2 2008.0 736.9 2009.0 727.5C2010.0 718.1 2012.1 690.0 2013.0 690.0C2013.9 690.0 2015.8 712.8 2016.5 727.5C2017.2 742.2 2018.7 797.5 2019.0 807.5" stroke="#000" stroke-width="8"/>
</g>
<g id="dashes" fill="none" stroke-linecap="butt">
<line x1="899.0" y1="473.4" x2="900.8" y2="1646.0" stroke="#ff0d0d" stroke-width="6.6" stroke-dasharray="19.5 16.35" stroke-dashoffset="0.0"/>
<path d="M90.0 1413.5C107.5 1413.4 207.5 1412.3 230.0 1413.0C252.5 1413.7 260.0 1417.0 270.0 1419.0C280.0 1421.0 300.0 1427.1 310.0 1429.0C320.0 1430.9 341.2 1432.6 350.0 1434.0C358.8 1435.4 373.1 1440.4 380.0 1440.0C386.9 1439.6 396.9 1433.0 405.0 1431.0C413.1 1429.0 435.0 1424.4 445.0 1424.0C455.0 1423.6 475.0 1427.1 485.0 1428.0C495.0 1428.9 516.9 1431.1 525.0 1431.0C533.1 1430.9 541.9 1429.5 550.0 1427.5C558.1 1425.5 580.0 1417.8 590.0 1415.0C600.0 1412.2 620.0 1406.8 630.0 1405.0C640.0 1403.2 653.8 1401.9 670.0 1401.0C686.2 1400.1 736.2 1398.1 760.0 1397.5C783.8 1396.9 838.1 1396.3 860.0 1396.0C881.9 1395.7 914.0 1394.9 935.0 1395.0C956.0 1395.1 1011.8 1396.4 1028.0 1397.0C1044.2 1397.6 1055.7 1399.8 1065.0 1400.0C1074.3 1400.2 1093.1 1398.9 1102.5 1399.0C1111.9 1399.1 1129.7 1400.1 1140.0 1401.0C1150.3 1401.9 1175.6 1404.9 1185.0 1406.0C1194.4 1407.1 1208.1 1408.9 1215.0 1410.0C1221.9 1411.1 1233.8 1414.4 1240.0 1415.0C1246.2 1415.6 1260.3 1414.7 1265.0 1415.0C1269.7 1415.3 1274.4 1416.4 1277.5 1417.5C1280.6 1418.6 1286.9 1423.6 1290.0 1424.0C1293.1 1424.4 1296.2 1421.6 1302.5 1421.0C1308.8 1420.4 1331.2 1419.2 1340.0 1419.0C1348.8 1418.8 1366.2 1418.6 1372.5 1419.0C1378.8 1419.4 1385.9 1422.2 1390.0 1422.5C1394.1 1422.8 1400.9 1420.6 1405.0 1421.0C1409.1 1421.4 1416.6 1424.8 1422.5 1426.0C1428.4 1427.2 1445.6 1430.0 1452.5 1431.0C1459.4 1432.0 1471.2 1433.0 1477.5 1434.0C1483.8 1435.0 1497.5 1437.5 1502.5 1439.0C1507.5 1440.5 1513.1 1444.6 1517.5 1446.0C1521.9 1447.4 1532.5 1448.4 1537.5 1450.0C1542.5 1451.6 1552.5 1457.1 1557.5 1459.0C1562.5 1460.9 1573.1 1464.4 1577.5 1465.5C1581.9 1466.6 1589.1 1467.7 1592.5 1467.5C1595.9 1467.3 1601.9 1465.2 1605.0 1464.0C1608.1 1462.8 1614.4 1458.8 1617.5 1457.5C1620.6 1456.2 1626.2 1454.8 1630.0 1454.0C1633.8 1453.2 1643.4 1450.8 1647.5 1451.0C1651.6 1451.2 1659.4 1454.2 1662.5 1456.0C1665.6 1457.8 1670.3 1462.0 1672.5 1465.0C1674.7 1468.0 1677.8 1474.7 1680.0 1480.0C1682.2 1485.3 1687.5 1500.0 1690.0 1507.5C1692.5 1515.0 1697.5 1532.2 1700.0 1540.0C1702.5 1547.8 1707.5 1561.9 1710.0 1570.0C1712.5 1578.1 1717.6 1595.6 1720.0 1605.0C1722.4 1614.4 1727.1 1634.7 1729.0 1645.0C1730.9 1655.3 1733.6 1676.6 1735.0 1687.5C1736.4 1698.4 1738.8 1721.6 1740.0 1732.5C1741.2 1743.4 1743.9 1767.8 1745.0 1775.0C1746.1 1782.2 1748.2 1787.6 1749.0 1790.0C1749.8 1792.4 1750.2 1794.6 1751.0 1794.0C1751.8 1793.4 1754.0 1790.5 1755.0 1785.0C1756.0 1779.5 1758.1 1760.6 1759.0 1750.0C1759.9 1739.4 1761.6 1714.1 1762.5 1700.0C1763.4 1685.9 1765.1 1650.6 1766.0 1637.5C1766.9 1624.4 1769.0 1604.7 1770.0 1595.0C1771.0 1585.3 1773.1 1566.8 1774.0 1560.0C1774.9 1553.2 1776.2 1544.0 1777.0 1541.0C1777.8 1538.0 1779.1 1536.0 1780.0 1536.0C1780.9 1536.0 1782.8 1538.0 1784.0 1541.0C1785.2 1544.0 1788.0 1553.9 1790.0 1560.0C1792.0 1566.1 1797.2 1582.2 1800.0 1590.0C1802.8 1597.8 1809.7 1615.9 1812.5 1622.5C1815.3 1629.1 1820.0 1637.8 1822.5 1642.5C1825.0 1647.2 1830.0 1656.4 1832.5 1660.0C1835.0 1663.6 1840.0 1667.6 1842.5 1671.0C1845.0 1674.4 1850.3 1683.4 1852.5 1687.5C1854.7 1691.6 1858.4 1700.2 1860.0 1704.0C1861.6 1707.8 1863.6 1715.2 1865.0 1717.5C1866.4 1719.8 1869.4 1720.6 1871.0 1722.5C1872.6 1724.4 1875.9 1729.1 1877.5 1732.5C1879.1 1735.9 1882.4 1744.7 1884.0 1750.0C1885.6 1755.3 1888.6 1769.1 1890.0 1775.0C1891.4 1780.9 1893.9 1793.8 1895.0 1797.5C1896.1 1801.2 1898.1 1805.0 1899.0 1805.0C1899.9 1805.0 1901.6 1801.2 1902.5 1797.5C1903.4 1793.8 1905.1 1779.1 1906.0 1775.0C1906.9 1770.9 1909.0 1766.6 1910.0 1765.0C1911.0 1763.4 1912.6 1762.2 1914.0 1762.5C1915.4 1762.8 1919.5 1765.3 1921.0 1767.5C1922.5 1769.7 1924.8 1776.7 1926.0 1780.0C1927.2 1783.3 1929.6 1792.0 1931.0 1794.0C1932.4 1796.0 1936.1 1794.9 1937.5 1796.0C1938.9 1797.1 1941.4 1800.1 1942.5 1802.5C1943.6 1804.9 1945.1 1812.3 1946.0 1815.0C1946.9 1817.7 1949.1 1822.9 1949.5 1824.0" stroke="#fdb900" stroke-width="7" stroke-linejoin="round"/>
<line x1="1194.0" y1="470.0" x2="1194.5" y2="1639.5" stroke="#ff7118" stroke-width="6.6" stroke-dasharray="19.5 16.35" stroke-dashoffset="0.0"/>
<line x1="809.5" y1="398.5" x2="809.5" y2="1262.0" stroke="#000" stroke-width="6.6" stroke-dasharray="19.5 16.35" stroke-dashoffset="0.0"/>
<line x1="960.0" y1="182.3" x2="957.5" y2="1276.5" stroke="#000" stroke-width="6.6" stroke-dasharray="19.5 16.35" stroke-dashoffset="0.0"/>
<line x1="1038.6" y1="262.1" x2="1045.5" y2="1285.5" stroke="#000" stroke-width="6.6" stroke-dasharray="19.5 16.35" stroke-dashoffset="0.0"/>
<line x1="1090.4" y1="409.0" x2="1095.0" y2="1385.5" stroke="#000" stroke-width="6.6" stroke-dasharray="19.5 16.35" stroke-dashoffset="0.0"/>
<line x1="1505.9" y1="356.5" x2="1502.0" y2="1406.0" stroke="#000" stroke-width="6.6" stroke-dasharray="19.5 16.35" stroke-dashoffset="0.0"/>
</g>
<polygon points="809.5,378.0 788.8,405.0 830.2,405.0" fill="#000"/>
<polygon points="960.0,161.5 939.2,188.5 980.8,188.5" fill="#000"/>
<polygon points="1038.5,241.5 1017.8,268.5 1059.2,268.5" fill="#000"/>
<polygon points="1090.3,389.0 1069.5,416.0 1111.0,416.0" fill="#000"/>
<polygon points="1506.0,336.0 1485.2,363.0 1526.8,363.0" fill="#000"/>
<polygon points="900.8,1671.8 880.5,1644.5 921.0,1644.5" fill="#ff0d0d"/>
<polygon points="1194.5,1675.0 1174.5,1648.8 1214.5,1648.8" fill="#ff7118"/>
<g id="labels">
<text x="235.5" y="1944" font-size="82" text-anchor="middle" font-family='"Liberation Sans", Arial, Helvetica, sans-serif'>1600</text>
<text x="592.2" y="1944" font-size="82" text-anchor="middle" font-family='"Liberation Sans", Arial, Helvetica, sans-serif'>1350</text>
<text x="949.0" y="1944" font-size="82" text-anchor="middle" font-family='"Liberation Sans", Arial, Helvetica, sans-serif'>1100</text>
<text x="1305.7" y="1944" font-size="82" text-anchor="middle" font-family='"Liberation Sans", Arial, Helvetica, sans-serif'>850</text>
<text x="1662.5" y="1944" font-size="82" text-anchor="middle" font-family='"Liberation Sans", Arial, Helvetica, sans-serif'>600</text>
<text x="2019.2" y="1944" font-size="82" text-anchor="middle" font-family='"Liberation Sans", Arial, Helvetica, sans-serif'>350</text>
<text x="83.5" y="407.5" font-size="80" fill="#000" font-family='"Liberation Sans", Arial, Helvetica, sans-serif'>(a)</text>
<text x="81.6" y="590.0" font-size="80" fill="#1a66c9" stroke="#fff" stroke-width="1.6" font-family='"Liberation Sans", Arial, Helvetica, sans-serif'>(b)</text>
<text x="81.0" y="981.0" font-size="80" fill="#63cc3c" stroke="#fff" stroke-width="1.6" font-family='"Liberation Sans", Arial, Helvetica, sans-serif'>(c)</text>
<text x="81.0" y="1374.0" font-size="80" fill="#ffb700" stroke="#fff" stroke-width="1.6" font-family='"Liberation Sans", Arial, Helvetica, sans-serif'>(d)</text>
<text x="293.5" y="345.0" font-size="79" fill="#000" font-family='"Liberation Serif", "Times New Roman", serif'>δ</text>
<text transform="translate(332.0,345.0) scale(1.000,1.040)" font-size="75.5" fill="#000" font-family='"Liberation Sans", Arial, Helvetica, sans-serif'>(POH)</text>
<text transform="translate(563.4,354.0) scale(1.000,1.040)" font-size="75.5" fill="#000" font-family='"Liberation Sans", Arial, Helvetica, sans-serif'>+</text>
<text transform="translate(631.0,346.0) scale(1.000,1.200)" font-size="78" fill="#000" font-family='"Liberation Serif", "Times New Roman", serif'>ϖ</text>
<text transform="translate(683.5,345.0) scale(1.000,1.040)" font-size="75.5" fill="#000" font-family='"Liberation Sans", Arial, Helvetica, sans-serif'>(CH</text>
<text x="815.0" y="360.5" font-size="47" fill="#000" font-family='"Liberation Sans", Arial, Helvetica, sans-serif'>2</text>
<text transform="translate(846.6,345.0) scale(1.000,1.040)" font-size="75.5" fill="#000" font-family='"Liberation Sans", Arial, Helvetica, sans-serif'>)</text>
<text x="883.2" y="132.0" font-size="84" fill="#000" font-family='"Liberation Serif", "Times New Roman", serif'>ν</text>
<text x="922.2" y="152.2" font-size="51" fill="#000" font-family='"Liberation Sans", Arial, Helvetica, sans-serif'>as</text>
<text transform="translate(974.8,132.0) scale(1.000,1.040)" font-size="75.5" fill="#000" font-family='"Liberation Sans", Arial, Helvetica, sans-serif'>PO of PO</text>
<text x="1295.0" y="151.0" font-size="50" fill="#000" font-family='"Liberation Sans", Arial, Helvetica, sans-serif'>3</text>
<text x="1324.0" y="109.0" font-size="48" fill="#000" font-family='"Liberation Sans", Arial, Helvetica, sans-serif'>2-</text>
<text x="1012.6" y="214.2" font-size="84" fill="#000" font-family='"Liberation Serif", "Times New Roman", serif'>ν</text>
<text transform="translate(1052.3,214.2) scale(1.000,1.040)" font-size="75.5" fill="#000" font-family='"Liberation Sans", Arial, Helvetica, sans-serif'>PO</text>
<text x="1159.0" y="230.5" font-size="48" fill="#000" font-family='"Liberation Sans", Arial, Helvetica, sans-serif'>2</text>
<text x="1074.0" y="355.0" font-size="84" fill="#000" font-family='"Liberation Serif", "Times New Roman", serif'>ν</text>
<text transform="translate(1112.6,355.0) scale(1.000,1.040)" font-size="75.5" fill="#000" font-family='"Liberation Sans", Arial, Helvetica, sans-serif'>(PO)</text>
<text transform="translate(1466.0,302.5) scale(1.000,1.080)" font-size="79" fill="#000" font-family='"Liberation Serif", "Times New Roman", serif'>δ</text>
<text transform="translate(1507.5,302.5) scale(1.000,1.110)" font-size="78" fill="#000" font-family='"Liberation Sans", Arial, Helvetica, sans-serif'>(</text>
<text transform="translate(1531.5,302.5) scale(1.000,1.157)" font-size="77.5" fill="#000" font-family='"Liberation Sans", Arial, Helvetica, sans-serif'>POH</text>
<text transform="translate(1702.5,302.5) scale(1.000,1.110)" font-size="78" fill="#000" font-family='"Liberation Sans", Arial, Helvetica, sans-serif'>)</text>
<text x="421.0" y="1747.5" font-size="84" fill="#ff0d0d" font-family='"Liberation Serif", "Times New Roman", serif'>ν</text>
<text x="460.0" y="1763.8" font-size="43" fill="#ff0d0d" stroke="#fff" stroke-width="0.8" font-family='"Liberation Sans", Arial, Helvetica, sans-serif'>as</text>
<text transform="translate(504.8,1747.5) scale(1.000,1.040)" font-size="76" fill="#ff0d0d" font-family='"Liberation Sans", Arial, Helvetica, sans-serif'>PO</text>
<text x="612.5" y="1764.0" font-size="48" fill="#ff0d0d" font-family='"Liberation Sans", Arial, Helvetica, sans-serif'>2</text>
<text transform="translate(659.5,1747.5) scale(1.000,1.040)" font-size="76" fill="#ff0d0d" font-family='"Liberation Sans", Arial, Helvetica, sans-serif'>of PO</text>
<text x="852.5" y="1764.0" font-size="48" fill="#ff0d0d" font-family='"Liberation Sans", Arial, Helvetica, sans-serif'>3</text>
<text transform="translate(879.8,1747.5) scale(1.000,1.040)" font-size="76" fill="#ff0d0d" font-family='"Liberation Sans", Arial, Helvetica, sans-serif'>H</text>
<text x="936.5" y="1724.0" font-size="48" fill="#ff0d0d" font-family='"Liberation Sans", Arial, Helvetica, sans-serif'>-</text>
<text x="1153.2" y="1747.5" font-size="84" fill="#ff7118" font-family='"Liberation Serif", "Times New Roman", serif'>ν</text>
<text x="1194.0" y="1763.8" font-size="49" fill="#ff7118" font-family='"Liberation Sans", Arial, Helvetica, sans-serif'>as</text>
<text transform="translate(1246.4,1747.0) scale(1.000,1.040)" font-size="75.5" fill="#ff7118" font-family='"Liberation Sans", Arial, Helvetica, sans-serif'>POH of PO</text>
<text x="1621.4" y="1764.0" font-size="48" fill="#ff7118" font-family='"Liberation Sans", Arial, Helvetica, sans-serif'>3</text>
<text transform="translate(1649.0,1747.0) scale(1.000,1.040)" font-size="75.5" fill="#ff7118" font-family='"Liberation Sans", Arial, Helvetica, sans-serif'>H</text>
<text x="1704.0" y="1723.5" font-size="48" fill="#ff7118" font-family='"Liberation Sans", Arial, Helvetica, sans-serif'>-</text>
<text x="924.3" y="2037.6" font-size="84" fill="#000" font-family='"Liberation Serif", "Times New Roman", serif'>ν</text>
<text x="989.5" y="2037.6" font-size="80" fill="#000" font-family='"Liberation Sans", Arial, Helvetica, sans-serif'>(cm</text>
<text x="1126.0" y="2014.8" font-size="48" fill="#000" font-family='"Liberation Sans", Arial, Helvetica, sans-serif'>-1</text>
<text x="1176.0" y="2037.6" font-size="78" fill="#000" font-family='"Liberation Sans", Arial, Helvetica, sans-serif'>)</text>
</g>
</svg>
</body></html>
